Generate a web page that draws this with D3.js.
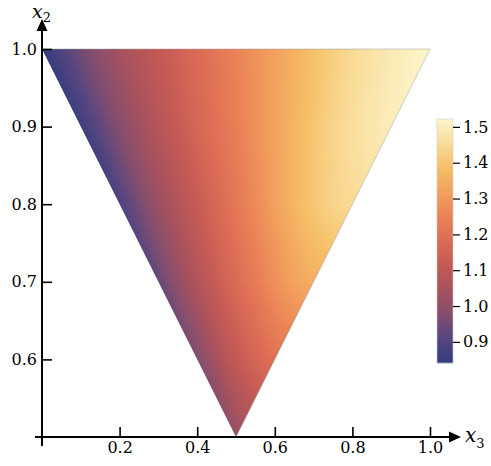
<!DOCTYPE html>
<html>
<head>
<meta charset="utf-8">
<script src="https://cdn.jsdelivr.net/npm/d3@7"></script>
<style>
  body { margin: 0; background: #fff; }
</style>
</head>
<body>
<svg id="chart" width="491" height="466"></svg>
<script>
// field values: rows are x2 levels, columns are the
// relative position t across each row of the triangle (0 = left edge, 1 = right edge)
const x2Rows = [1.0, 0.9, 0.8, 0.7, 0.6, 0.5];
const tCols = [0, 0.1, 0.2, 0.3, 0.4, 0.5, 0.6, 0.7, 0.8, 0.9, 1.0];
const row100 = [0.845, 0.95, 1.04, 1.11, 1.18, 1.25, 1.32, 1.39, 1.45, 1.49, 1.52];
const row090 = [0.86, 0.96, 1.04, 1.11, 1.18, 1.24, 1.31, 1.37, 1.43, 1.47, 1.50];
const row080 = [0.89, 0.97, 1.04, 1.10, 1.16, 1.22, 1.28, 1.34, 1.39, 1.43, 1.45];
const row070 = [0.93, 0.99, 1.04, 1.09, 1.14, 1.18, 1.22, 1.26, 1.30, 1.33, 1.35];
const row060 = [0.97, 1.00, 1.03, 1.06, 1.09, 1.11, 1.13, 1.15, 1.17, 1.19, 1.20];
const row050 = [1.01, 1.01, 1.01, 1.01, 1.01, 1.01, 1.01, 1.01, 1.01, 1.01, 1.01];
const fieldRows = [row100, row090, row080, row070, row060, row050];

const xMajor = [0.2, 0.4, 0.6, 0.8, 1.0];
const yMajor = [0.6, 0.7, 0.8, 0.9, 1.0];
const barMajor = [0.9, 1.0, 1.1, 1.2, 1.3, 1.4, 1.5];
const valueRange = [0.841, 1.522];

const palette = ["#343b80", "#56467f", "#844e6e", "#a8525d", "#c45a55", "#da6b55",
                 "#ea8257", "#f2a05d", "#f6bf67", "#f9dc98", "#fcf6cd"];

const FONT = '"DejaVu Serif", "Liberation Serif", serif';

const svg = d3.select('#chart');

const x = d3.scaleLinear().domain([0, 1]).range([42, 430]);
const y = d3.scaleLinear().domain([0.5, 1]).range([437, 49]);

const color = d3.scaleLinear()
  .domain(d3.range(palette.length).map(i => valueRange[0] + (valueRange[1] - valueRange[0]) * i / (palette.length - 1)))
  .range(palette)
  .interpolate(d3.interpolateRgb)
  .clamp(true);

function fieldAt(x3, x2) {
  const w = 2 * x2 - 1;
  let t = w > 1e-6 ? (x3 - (1 - x2)) / w : 0.5;
  t = Math.max(0, Math.min(1, t));
  let r = (1 - x2) / 0.1;
  r = Math.max(0, Math.min(x2Rows.length - 1.0001, r));
  let c = t / 0.1;
  c = Math.max(0, Math.min(tCols.length - 1.0001, c));
  const r0 = Math.floor(r), c0 = Math.floor(c);
  const fr = r - r0, fc = c - c0;
  const a = fieldRows[r0][c0] * (1 - fc) + fieldRows[r0][c0 + 1] * fc;
  const b = fieldRows[r0 + 1][c0] * (1 - fc) + fieldRows[r0 + 1][c0 + 1] * fc;
  return a * (1 - fr) + b * fr;
}

// density raster
const canvas = document.createElement('canvas');
canvas.width = 491; canvas.height = 466;
const ctx = canvas.getContext('2d');
const img = ctx.createImageData(491, 466);
for (let py = 40; py < 446; py++) {
  for (let px = 35; px < 440; px++) {
    const v = fieldAt(x.invert(px + 0.5), y.invert(py + 0.5));
    const col = d3.rgb(color(v));
    const k = (py * 491 + px) * 4;
    img.data[k] = col.r; img.data[k + 1] = col.g; img.data[k + 2] = col.b; img.data[k + 3] = 255;
  }
}
ctx.putImageData(img, 0, 0);

const tri = [[0, 1], [1, 1], [0.5, 0.5]].map(d => [x(d[0]), y(d[1])]);

svg.append('clipPath').attr('id', 'tri')
  .append('polygon').attr('points', tri.map(p => p.join(',')).join(' '));

svg.append('image')
  .attr('href', canvas.toDataURL())
  .attr('width', 491).attr('height', 466)
  .attr('clip-path', 'url(#tri)');

svg.append('path')
  .attr('d', d3.line()([tri[0], tri[1], tri[2]]))
  .attr('fill', 'none')
  .attr('stroke', '#999')
  .attr('stroke-opacity', 0.6)
  .attr('stroke-width', 0.8);

// axes
const xMinor = d3.range(1, 20).map(i => i * 0.05).filter(v => !xMajor.some(m => Math.abs(m - v) < 1e-6));
const yMinor = d3.range(26, 50).map(i => i * 0.02).filter(v => !yMajor.some(m => Math.abs(m - v) < 1e-6));

const gx = svg.append('g').attr('transform', 'translate(0,437)');
gx.call(d3.axisBottom(x).tickValues(xMinor).tickSize(-5).tickFormat(''));
gx.call(d3.axisBottom(x).tickValues(xMajor).tickSize(-10).tickPadding(5).tickFormat(d3.format('.1f')));

const gy = svg.append('g').attr('transform', 'translate(42,0)');
gy.call(d3.axisLeft(y).tickValues(yMinor).tickSize(-5).tickFormat(''));
gy.call(d3.axisLeft(y).tickValues(yMajor).tickSize(-10).tickPadding(5).tickFormat(d3.format('.1f')));

// colour bar
const barY = d3.scaleLinear().domain(valueRange).range([363, 119]);
const bar = svg.append('g');
bar.selectAll('rect.c')
  .data(d3.range(119, 363))
  .enter().append('rect')
  .attr('class', 'c')
  .attr('x', 437).attr('width', 16)
  .attr('y', d => d).attr('height', 1.2)
  .attr('fill', d => color(barY.invert(d + 0.5)));
bar.append('rect').attr('x', 437).attr('y', 119).attr('width', 16).attr('height', 244)
  .attr('fill', 'none').attr('stroke', '#ccc').attr('stroke-width', 0.6);

const barMinor = d3.range(43, 77).map(i => i * 0.02).filter(v => !barMajor.some(m => Math.abs(m - v) < 1e-6));
const gb = svg.append('g').attr('transform', 'translate(453,0)');
gb.call(d3.axisRight(barY).tickValues(barMinor).tickSize(4).tickFormat(''));
gb.call(d3.axisRight(barY).tickValues(barMajor).tickSize(7).tickPadding(3).tickFormat(d3.format('.1f')));
gb.selectAll('.tick line').attr('stroke-width', 1.2);

svg.selectAll('.domain').remove();
svg.selectAll('g').attr('font-family', FONT).attr('font-size', 16);
svg.selectAll('.tick line').attr('stroke', '#000');
gx.selectAll('.tick line').attr('stroke-width', 1.6);
gy.selectAll('.tick line').attr('stroke-width', 1.6);
svg.selectAll('.tick text').attr('fill', '#000').attr('font-family', FONT).attr('font-size', 16);

svg.append('line').attr('x1', 35).attr('x2', 450).attr('y1', 437).attr('y2', 437)
  .attr('stroke', '#000').attr('stroke-width', 2);
svg.append('line').attr('x1', 42).attr('x2', 42).attr('y1', 446).attr('y2', 30)
  .attr('stroke', '#000').attr('stroke-width', 2);
svg.append('polygon').attr('points', '461,437 449,431.5 449,442.5');
svg.append('polygon').attr('points', '42,19 36.5,31 47.5,31');

const xl = svg.append('text').attr('x', 465).attr('y', 442)
  .attr('font-family', FONT).attr('font-size', 20);
xl.append('tspan').attr('font-style', 'italic').text('x');
xl.append('tspan').attr('dy', 6).attr('font-size', 13).text('3');

const yl = svg.append('text').attr('x', 32).attr('y', 18)
  .attr('font-family', FONT).attr('font-size', 19);
yl.append('tspan').attr('font-style', 'italic').text('x');
yl.append('tspan').attr('dy', 4).attr('font-size', 13).text('2');
</script>
</body>
</html>
